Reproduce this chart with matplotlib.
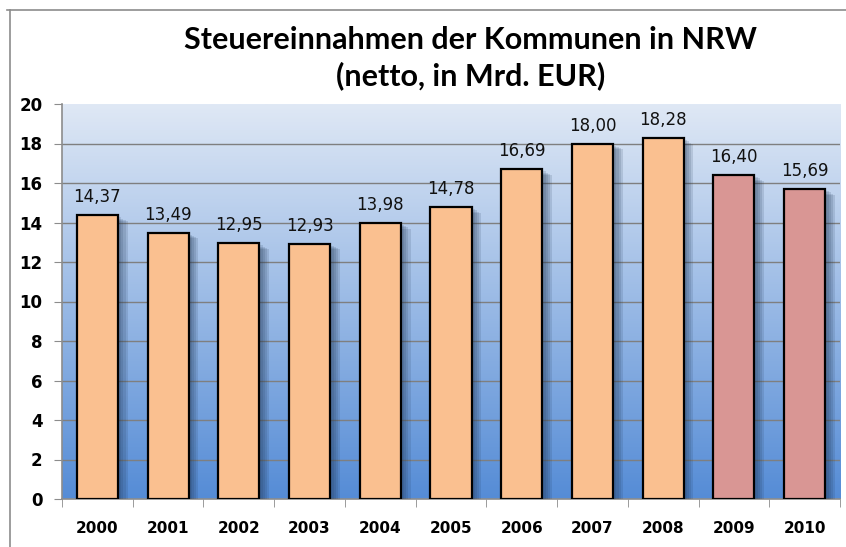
import matplotlib
matplotlib.use("Agg")
import matplotlib.pyplot as plt
import matplotlib.patheffects as pe
import numpy as np
from matplotlib.lines import Line2D

years = ["2000", "2001", "2002", "2003", "2004", "2005", "2006", "2007", "2008", "2009", "2010"]
values = [14.37, 13.49, 12.95, 12.93, 13.98, 14.78, 16.69, 18.00, 18.28, 16.40, 15.69]
bar_colors = ["#FAC090"] * 9 + ["#D99694"] * 2

fig = plt.figure(figsize=(8.46, 5.47), dpi=100)
ax = fig.add_axes([62 / 846, 1 - 499 / 547, 778 / 846, 395 / 547])

# outer chart frame
fig.add_artist(Line2D([10 / 846, 10 / 846], [0, 1 - 10 / 547], transform=fig.transFigure,
                      color="#8c8c8c", lw=1.2))
fig.add_artist(Line2D([7 / 846, 1], [1 - 10 / 547, 1 - 10 / 547], transform=fig.transFigure,
                      color="#8c8c8c", lw=1.2))

# gradient background
top = np.array([0xDF, 0xE8, 0xF5]) / 255
bot = np.array([0x55, 0x8C, 0xD6]) / 255
t = np.linspace(0, 1, 256)[:, None]
grad = (top * (1 - t) + bot * t)[:, None, :]
ax.imshow(grad, extent=[-0.5, 10.5, 0, 20], aspect="auto", zorder=0, interpolation="bilinear")

# grid lines (no line at the top edge)
for g in range(2, 20, 2):
    ax.axhline(g, color="#7f7f7f", lw=1, zorder=1)

x = np.arange(len(years))
bars = ax.bar(x, values, width=0.58, color=bar_colors, edgecolor="black", linewidth=1.6, zorder=3)
# soft shadow: a few stacked offset layers
shadow = [pe.SimplePatchShadow(offset=(o, -o * 0.6), shadow_rgbFace="#1f3552", alpha=0.14)
          for o in (7, 5.5, 4, 2.5)]
for b in bars:
    b.set_path_effects(shadow + [pe.Normal()])

for xi, v in zip(x, values):
    ax.text(xi, v + 0.45, f"{v:.2f}".replace(".", ","), ha="center", va="bottom",
            fontsize=12, family="DejaVu Sans", color="#111111", zorder=4)

ax.set_xlim(-0.5, 10.5)
ax.set_ylim(0, 20)
ax.set_yticks(range(0, 21, 2))
for s in ["top", "right"]:
    ax.spines[s].set_visible(False)
for s in ["left", "bottom"]:
    ax.spines[s].set_color("#8c8c8c")
    ax.spines[s].set_linewidth(1.2)

ax.set_xticks(x)
ax.set_xticklabels(years, fontweight="bold", fontsize=11, family="DejaVu Sans")
ax.set_xticks(np.arange(-0.5, 11, 1), minor=True)
ax.tick_params(axis="x", which="major", length=0, pad=16)
ax.tick_params(axis="x", which="minor", length=6, color="#8c8c8c")
ax.tick_params(axis="y", length=6, color="#8c8c8c", labelsize=12, pad=8)
for lab in ax.get_yticklabels():
    lab.set_fontweight("bold")
    lab.set_family("DejaVu Sans")

fig.text(0.556, 1 - 40 / 547, "Steuereinnahmen der Kommunen in NRW", ha="center", va="center",
         fontsize=22, fontweight="bold", family="Lato")
fig.text(0.556, 1 - 76 / 547, "(netto, in Mrd. EUR)", ha="center", va="center",
         fontsize=22, fontweight="bold", family="Lato")

fig.savefig("out.png", dpi=100)
